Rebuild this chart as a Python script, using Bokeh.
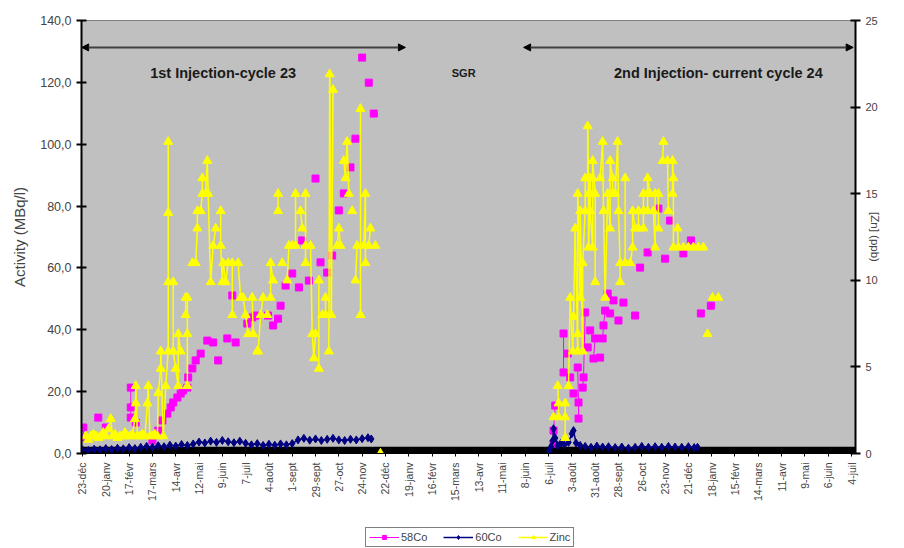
import math
from bokeh.plotting import figure
from bokeh.layouts import column
from bokeh.models import (Range1d, LinearAxis, FixedTicker, CustomJSTickFormatter, Legend,
                          LegendItem, Arrow, NormalHead, Label, BoxAnnotation)
from bokeh.embed import file_html
from bokeh.resources import INLINE

# ---------------- data ----------------
TICK_LABELS = ["23-déc", "20-janv", "17-févr", "17-mars", "14-avr", "12-mai", "9-juin", "7-juil",
               "4-août", "1-sept", "29-sept", "27-oct", "24-nov", "22-déc", "19-janv", "16-févr",
               "15-mars", "13-avr", "11-mai", "8-juin", "6-juil", "3-août", "31-août", "28-sept",
               "26-oct", "23-nov", "21-déc", "18-janv", "15-févr", "14-mars", "11-avr", "9-mai",
               "6-juin", "4-juil"]
TICK_STEP = 28  # days between date labels

CO58_DAY = [1, 1, 19, 28, 58, 58, 58, 64, 84, 91, 96, 102, 106, 109, 114, 118, 121, 126, 127, 132,
            136, 142, 150, 157, 163, 174, 180, 184, 198, 204, 208, 223, 229, 235, 238, 244, 252,
            260, 264, 272, 280, 286, 294, 300, 308, 314, 322, 328, 336, 344, 350,
            566, 566, 568, 578, 578, 583, 586, 590, 595, 596, 596, 601, 602, 604, 607, 610, 614,
            616, 622, 625, 626, 628, 631, 634, 638, 644, 650, 664, 670, 679, 692, 700, 706, 722,
            731, 743, 755]
CO58_VAL = [8.4, 5.2, 11.6, 8.4, 21.3, 14.9, 11.6, 10.0, 4.2, 7.4, 10.7, 12.9, 14.9, 16.5, 18.1,
            19.4, 20.4, 21.3, 24.6, 27.5, 30.1, 32.3, 36.5, 35.9, 30.1, 37.2, 51.1, 35.9, 42.0,
            44.0, 44.6, 44.6, 41.4, 43.6, 47.8, 54.3, 58.2, 53.7, 68.9, 55.9, 88.9, 61.8, 58.5,
            64.0, 78.6, 84.1, 92.5, 101.8, 128.0, 119.9, 109.9,
            3.2, 7.4, 15.5, 26.2, 38.8, 32.3, 24.6, 19.4, 27.8, 16.5, 11.3, 21.3, 24.6, 45.6,
            34.3, 39.8, 30.7, 37.2, 31.0, 37.2, 41.4, 46.2, 51.7, 45.3, 49.5, 43.0, 48.8, 44.6,
            60.1, 65.0, 79.2, 63.0, 75.3, 64.7, 68.9, 45.3, 47.8]

CO60_DAY = [0, 7, 14, 21, 28, 35, 42, 49, 56, 63, 70, 77, 84, 91, 98, 105, 112, 119, 126, 133,
            140, 147, 154, 161, 168, 175, 182, 189, 196, 203, 210, 217, 224, 231, 238, 245, 252,
            259, 266, 273, 280, 287, 294, 301, 308, 315, 322, 329, 336, 343, 347,
            561, 563, 565, 566, 568, 571, 575, 579, 584, 588, 590, 593, 598, 604, 611, 618, 625,
            632, 640, 648, 656, 664, 672, 680, 688, 696, 704, 712, 720, 728, 735, 739]
CO60_VAL = [1.2, 1.0, 1.4, 1.2, 1.6, 1.3, 1.7, 1.5, 1.9, 1.6, 2.0, 2.3, 2.0, 2.5, 2.2, 2.7, 2.4,
            2.9, 2.6, 3.1, 3.7, 3.4, 4.0, 3.6, 4.2, 3.8, 3.5, 4.0, 3.3, 2.8, 3.2, 2.6, 3.0, 2.7,
            3.1, 2.8, 3.2, 4.4, 4.9, 4.3, 4.7, 4.2, 4.6, 4.9, 4.4, 4.2, 4.6, 4.4, 4.8, 5.1, 4.7,
            0.8, 2.2, 4.2, 8.0, 5.0, 2.6, 3.4, 2.8, 3.6, 6.4, 7.4, 3.4, 2.6, 2.3, 2.0, 2.4, 2.1,
            2.2, 1.9, 2.1, 1.7, 2.0, 2.3, 2.0, 2.2, 2.0, 2.3, 2.1, 2.0, 2.2, 1.9, 2.0]

ZN_DAY = [4, 7, 10, 13, 16, 19, 22, 25, 28, 31, 34, 36, 39, 42, 45, 48, 51, 54, 57, 60, 63, 64, 64,
          66, 69, 72, 75, 78, 79, 81, 84, 87, 90, 91, 94, 94, 97, 100, 103, 103, 103, 103, 109, 109,
          112, 115, 115, 118, 124, 124, 126, 126, 126, 132, 136, 138, 138, 142, 144, 144, 148, 150,
          151, 154, 157, 160, 166, 166, 168, 169, 172, 175, 180, 180, 187, 190, 193, 196, 199, 204,
          205, 210, 211, 214, 217, 222, 226, 226, 229, 235, 235, 240, 246, 248, 252, 256, 256, 262,
          264, 268, 268, 268, 274, 276, 278, 280, 284, 284, 288, 292, 292, 296, 297, 299, 301, 306,
          308, 310, 314, 316, 318, 320, 324, 328, 330, 334, 334, 338, 340, 340, 344, 346, 352, 358,
          566, 571, 572, 572, 580, 580, 580, 584, 586, 589, 590, 592, 595, 595, 595, 598, 598, 601,
          601, 604, 604, 607, 607, 608, 608, 610, 610, 610, 613, 613, 613, 616, 616, 622, 625, 626,
          628, 631, 634, 634, 637, 637, 640, 643, 644, 646, 646, 652, 652, 658, 661, 661, 664, 668,
          668, 674, 674, 674, 679, 679, 679, 682, 686, 688, 688, 692, 692, 697, 698, 703, 704, 709,
          709, 710, 710, 715, 716, 722, 728, 734, 740, 746, 751, 757, 764]
ZN_VAL = [1.0, 0.8, 1.0, 1.1, 1.0, 0.9, 1.0, 1.2, 1.0, 1.4, 2.0, 1.0, 1.1, 0.9, 1.0, 1.0, 1.2, 1.0,
          1.0, 1.1, 2.0, 2.9, 3.9, 1.0, 1.0, 1.1, 1.0, 2.9, 3.9, 1.0, 1.0, 1.1, 1.0, 3.5, 4.9, 5.9,
          1.0, 3.9, 5.9, 9.9, 13.9, 18.0, 9.9, 5.9, 4.9, 3.9, 6.9, 5.9, 8.0, 9.0, 9.0, 6.9, 3.9,
          11.0, 11.0, 13.0, 14.0, 14.0, 15.0, 15.9, 15.0, 16.9, 15.0, 9.9, 12.0, 13.0, 14.0, 12.0,
          9.9, 11.0, 9.9, 11.0, 11.0, 8.0, 11.0, 9.0, 9.0, 8.0, 6.9, 9.0, 6.9, 5.9, 5.9, 8.0, 9.0,
          8.0, 9.0, 11.0, 10.0, 14.0, 15.0, 11.0, 10.0, 12.0, 12.0, 12.0, 15.0, 14.0, 13.0, 15.0,
          12.0, 11.0, 12.0, 6.9, 5.5, 6.9, 10.0, 4.9, 8.0, 9.0, 8.0, 5.9, 21.9, 8.0, 21.0, 12.0,
          13.0, 12.0, 16.9, 15.9, 18.0, 15.0, 14.0, 10.0, 12.0, 19.9, 8.0, 12.0, 15.0, 11.0, 12.0,
          13.0, 12.0, 0.0,
          2.1, 3.9, 2.9, 2.1, 0.9, 2.1, 2.9, 3.9, 9.0, 5.9, 7.9, 13.0, 5.9, 6.9, 15.0, 9.0, 14.0,
          5.9, 11.0, 14.0, 15.9, 15.9, 18.9, 15.0, 11.9, 15.9, 15.0, 14.0, 11.9, 15.9, 16.9, 15.0,
          9.9, 15.9, 18.0, 14.0, 9.0, 15.0, 13.0, 16.9, 15.9, 15.0, 15.0, 18.0, 14.0, 11.0, 9.9,
          11.0, 15.9, 11.0, 11.9, 14.0, 13.0, 13.0, 14.0, 13.0, 14.0, 15.0, 14.0, 15.0, 15.9, 15.0,
          14.0, 11.9, 15.0, 13.0, 15.0, 16.9, 18.0, 16.9, 14.0, 15.0, 16.9, 15.9, 11.9, 13.0, 11.9,
          11.9, 11.9, 11.9, 11.9, 11.9, 6.9, 9.0, 9.0]

SERIES_NAMES = ["58Co", "60Co", "Zinc"]

# ---------------- styling constants ----------------
FONT = "Liberation Sans"
MAGENTA, NAVY, YELLOW = "#FF00FF", "#000080", "#FFFF00"
PLOT_BG = "#C0C0C0"


def segs(xs, ys, gap):
    x0, y0, x1, y1 = [], [], [], []
    for i in range(len(xs) - 1):
        if abs(xs[i + 1] - xs[i]) <= gap:
            x0.append(xs[i]); y0.append(ys[i]); x1.append(xs[i + 1]); y1.append(ys[i + 1])
    return dict(x0=x0, y0=y0, x1=x1, y1=y1)


n_ticks = len(TICK_LABELS)
p = figure(width=904, height=522, output_backend="svg", toolbar_location=None,
           x_range=Range1d(-1.2, (n_ticks - 1) * TICK_STEP + 4.8), y_range=Range1d(0, 140),
           min_border_left=81, min_border_right=49, min_border_top=20, min_border_bottom=69)
p.extra_y_ranges = {"zn": Range1d(0, 25)}
p.background_fill_color = PLOT_BG
p.border_fill_color = "white"
p.outline_line_color = "#808080"
p.grid.visible = False

# black band on the bottom of the plot area
p.add_layout(BoxAnnotation(bottom=0, top=2.2, fill_color="black", fill_alpha=1,
                           line_alpha=0, level="underlay"))

# x axis
xa = p.xaxis[0]
xa.ticker = FixedTicker(ticks=[i * TICK_STEP for i in range(n_ticks)])
xa.formatter = CustomJSTickFormatter(args=dict(labels=TICK_LABELS, step=TICK_STEP),
                                     code="return labels[Math.round(tick/step)] || '';")
xa.major_label_orientation = math.pi / 2
xa.major_label_text_font = FONT
xa.major_label_text_font_size = "10.5px"
xa.major_label_standoff = 6
xa.major_tick_out = 3
xa.major_tick_in = 0
xa.minor_tick_line_color = None
xa.axis_line_color = "black"

# left axis
ya = p.yaxis[0]
ya.ticker = FixedTicker(ticks=[0, 20, 40, 60, 80, 100, 120, 140])
ya.formatter = CustomJSTickFormatter(code="return tick.toFixed(1).replace('.', ',');")
ya.major_label_text_font = FONT
ya.major_label_text_font_size = "12.5px"
ya.major_tick_in = 5
ya.major_tick_out = 5
ya.major_tick_line_width = 2
ya.minor_tick_line_color = None
ya.axis_line_width = 2
ya.axis_line_color = "black"
ya.axis_label = "Activity (MBq/l)"
ya.axis_label_text_font = FONT
ya.axis_label_text_font_size = "15px"
ya.axis_label_text_font_style = "normal"
ya.axis_label_standoff = 9

# right axis
ra = LinearAxis(y_range_name="zn", ticker=FixedTicker(ticks=[0, 5, 10, 15, 20, 25]))
ra.major_label_text_font = FONT
ra.major_label_text_font_size = "11px"
ra.major_tick_in = 5
ra.major_tick_out = 5
ra.major_tick_line_width = 2
ra.minor_tick_line_color = None
ra.axis_line_width = 2
ra.axis_line_color = "black"
ra.axis_label = "[Zn] (ppb)"
ra.axis_label_text_font = FONT
ra.axis_label_text_font_size = "11.5px"
ra.axis_label_text_font_style = "normal"
ra.axis_label_standoff = -12
p.add_layout(ra, "right")

# series
s58 = dict(line_color=MAGENTA, line_width=1)
m58 = dict(marker="square", size=7, color=MAGENTA)
s60 = dict(line_color=NAVY, line_width=1.5)
m60 = dict(marker="diamond", size=8, color=NAVY)
szn = dict(line_color=YELLOW, line_width=1.5)
mzn = dict(marker="triangle", size=9, color=YELLOW)

p.segment(source=segs(CO58_DAY, CO58_VAL, 2), x0="x0", y0="y0", x1="x1", y1="y1", **s58)
p.scatter(CO58_DAY, CO58_VAL, **m58)
p.segment(source=segs(CO60_DAY, CO60_VAL, 10), x0="x0", y0="y0", x1="x1", y1="y1", **s60)
p.scatter(CO60_DAY, CO60_VAL, **m60)
p.segment(source=segs(ZN_DAY, ZN_VAL, 3.5), x0="x0", y0="y0", x1="x1", y1="y1",
          y_range_name="zn", **szn)
p.scatter(ZN_DAY, ZN_VAL, y_range_name="zn", **mzn)

# cycle arrows and texts
head = dict(size=7, fill_color="black", line_color="black")
for xs, xe in [(-1, 388), (530, 926)]:
    p.add_layout(Arrow(x_start=xs, y_start=131.3, x_end=xe, y_end=131.3,
                       start=NormalHead(**head), end=NormalHead(**head),
                       line_color="#404040", line_width=2))
for tx, txt, fs in [(169, "1st Injection-cycle 23", "14.5px"), (458, "SGR", "11px"),
                    (764, "2nd Injection- current cycle 24", "14.5px")]:
    p.add_layout(Label(x=tx, y=122.9, text=txt, text_align="center", text_baseline="middle",
                       text_font=FONT, text_font_size=fs, text_font_style="bold",
                       text_color="#1a1a1a"))

# legend strip below the chart (its own small canvas so nothing is clipped);
# the proxy glyphs sit outside the strip's visible range, only their legend swatches show
lg = figure(width=904, height=26, output_backend="svg", toolbar_location=None,
            x_axis_type=None, y_axis_type=None, min_border=0,
            x_range=Range1d(0, 1), y_range=Range1d(0, 1))
lg.outline_line_color = None
lg.grid.visible = False
lg.background_fill_color = "white"
lg.border_fill_color = "white"
items = []
for name, sty, mst in zip(SERIES_NAMES, [s58, s60, szn], [m58, m60, mzn]):
    r1 = lg.segment(x0=[-5], y0=[-5], x1=[-4], y1=[-5], **sty)
    r2 = lg.scatter(x=[-5], y=[-5], **mst)
    items.append(LegendItem(label=name, renderers=[r1, r2]))
legend = Legend(items=items, orientation="horizontal", location=(284, 1),
                border_line_color="black", border_line_width=1,
                background_fill_color="white", background_fill_alpha=1,
                label_text_font=FONT, label_text_font_size="11px",
                glyph_width=30, glyph_height=10, label_standoff=2, spacing=16,
                padding=3, margin=0, label_height=12)
lg.add_layout(legend)

open("out.html", "w").write(file_html(column(p, lg, spacing=0), INLINE))
